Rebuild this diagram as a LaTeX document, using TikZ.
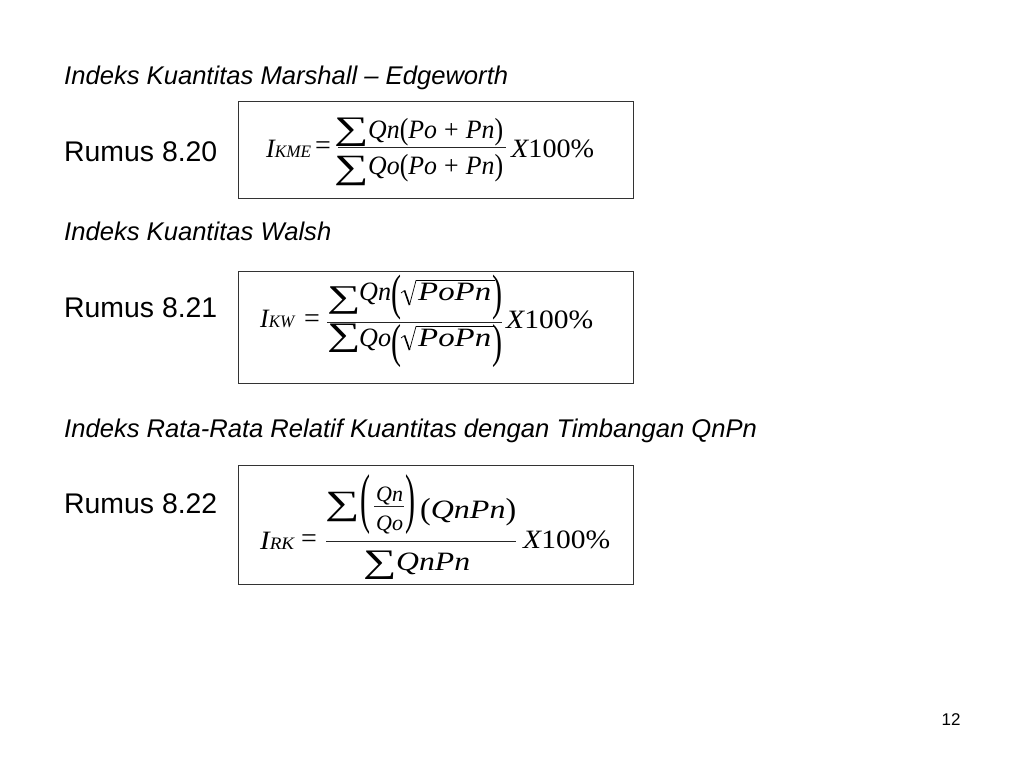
\documentclass[tikz,border=0pt]{standalone}
\usepackage{graphicx}
\usepackage{fontspec}
\setmainfont{Liberation Sans}
\newfontfamily\tms{Liberation Serif}
% piece of formula text: name, left x, width, baseline y, text
\newcommand\pc[5]{\node[pc] (#1) at (#2,#4) {\resizebox{#3pt}{\height}{#5}};}
% glyph fitted to a box: name, left x, bottom y, width, height, glyph
\newcommand\gl[6]{\node[gl] (#1) at (#2,#3) {\resizebox*{#4pt}{#5pt}{#6}};}
% slightly taller parentheses
\newcommand\tp[1]{{\upshape\raisebox{-1.5pt}{\scalebox{1}[1.15]{#1}}}}
\tikzset{
  heading/.style={anchor=base west, inner sep=0pt, font=\fontsize{25.6}{30}\selectfont\itshape},
  rumus/.style={anchor=base west, inner sep=0pt, font=\fontsize{28.4}{32}\selectfont},
  fbox/.style={draw=black!80, line width=1pt},
  pc/.style={anchor=base west, inner sep=0pt, font=\tms\itshape\fontsize{26.5}{30}\selectfont},
  small/.style={anchor=base west, inner sep=0pt, font=\tms\itshape\fontsize{22}{24}\selectfont},
  gl/.style={anchor=south west, inner sep=0pt, font=\tms\fontsize{24}{26}\selectfont},
  eq/.style={anchor=center, inner sep=0pt, font=\tms\fontsize{28}{30}\selectfont},
  bar/.style={draw=black!85, line width=0.8pt},
  radthin/.style={draw=black, line width=0.7pt, line join=miter},
  radthick/.style={draw=black, line width=1.6pt},
}
\begin{document}
\begin{tikzpicture}[x=1pt, y=-1pt]
\useasboundingbox[fill=white] (0,0) rectangle (1024,768);
% ---------------- section 1
\node[heading] (h1) at (64,84) {Indeks Kuantitas Marshall -- Edgeworth};
\node[rumus] (r1) at (64,161) {Rumus 8.20};
\draw[fbox] (238,101) rectangle (633,198);
\pc{f1i}{266}{45}{157}{I{\fontsize{17.5}{18}\selectfont KME}}
\node[eq] (f1eq) at (323,148) {=};
\gl{f1s1}{334}{147}{34.5}{28.5}{∑}
\pc{f1n}{368}{135}{138}{Qn\tp{(}Po\;\upshape{+}\;\itshape Pn\tp{)}}
\draw[bar] (338,147.5) -- (506,147.5);
\gl{f1s2}{334}{186}{34.5}{29.5}{∑}
\pc{f1d}{368}{135}{174}{Qo\tp{(}Po\;\upshape{+}\;\itshape Pn\tp{)}}
\pc{f1x}{511}{83}{157}{X\upshape 100\%}
% ---------------- section 2
\node[heading] (h2) at (64,240) {Indeks Kuantitas Walsh};
\node[rumus] (r2) at (64,317) {Rumus 8.21};
\draw[fbox] (238,271) rectangle (633,383);
\pc{f2i}{260}{34}{327}{I{\fontsize{17.5}{18}\selectfont KW}}
\node[eq] (f2eq) at (312,321.5) {=};
\draw[bar] (327,322) -- (502,322);
\gl{f2s1}{327}{314}{33.5}{27.5}{∑}
\pc{f2n1}{359}{32}{300}{Qn}
\gl{f2p1}{391}{320}{10}{45}{(}
\draw[radthin] (401,293) -- (404.5,290.5);
\draw[radthick] (404.5,290.5) -- (409.5,305);
\draw[radthin] (409.5,305) -- (416,280.5) -- (495,280.5);
\pc{f2n2}{418}{73}{300}{PoPn}
\gl{f2p2}{492}{320}{10}{45}{)}
\gl{f2s2}{327}{353}{33.5}{28.5}{∑}
\pc{f2d1}{359}{32}{346}{Qo}
\gl{f2p3}{391}{368}{10}{43}{(}
\draw[radthin] (401,338) -- (404.5,335.5);
\draw[radthick] (404.5,335.5) -- (409.5,350);
\draw[radthin] (409.5,350) -- (416,326.5) -- (495,326.5);
\pc{f2d2}{418}{73}{346}{PoPn}
\gl{f2p4}{492}{368}{10}{43}{)}
\pc{f2x}{506}{87}{328}{X\upshape 100\%}
% ---------------- section 3
\node[heading] (h3) at (64,437) {Indeks Rata-Rata Relatif Kuantitas dengan Timbangan QnPn};
\node[rumus] (r3) at (64,513) {Rumus 8.22};
\draw[fbox] (238,465) rectangle (633,584);
\pc{f3i}{260}{34}{549}{I{\fontsize{17.5}{18}\selectfont RK}}
\node[eq] (f3eq) at (309,541.5) {=};
\draw[bar] (326,541) -- (516,541);
\gl{f3s1}{325}{522}{34.5}{29.5}{∑}
\gl{f3p1}{360}{535}{10}{60}{(}
\node[small] (f3q1) at (376,501) {Qn};
\draw[bar] (374,506.5) -- (404,506.5);
\node[small] (f3q2) at (376,530) {Qo};
\gl{f3p2}{405}{535}{10}{60}{)}
\pc{f3n}{420}{96}{518}{\tp{(}QnPn\tp{)}}
\gl{f3s2}{363}{580}{33.5}{28.5}{∑}
\pc{f3d}{396}{74}{570}{QnPn}
\pc{f3x}{523}{87}{548}{X\upshape 100\%}
% ---------------- page number
\node[anchor=base, inner sep=0pt, font=\fontsize{17}{20}\selectfont] (pg) at (951,725) {12};
\end{tikzpicture}
\end{document}
